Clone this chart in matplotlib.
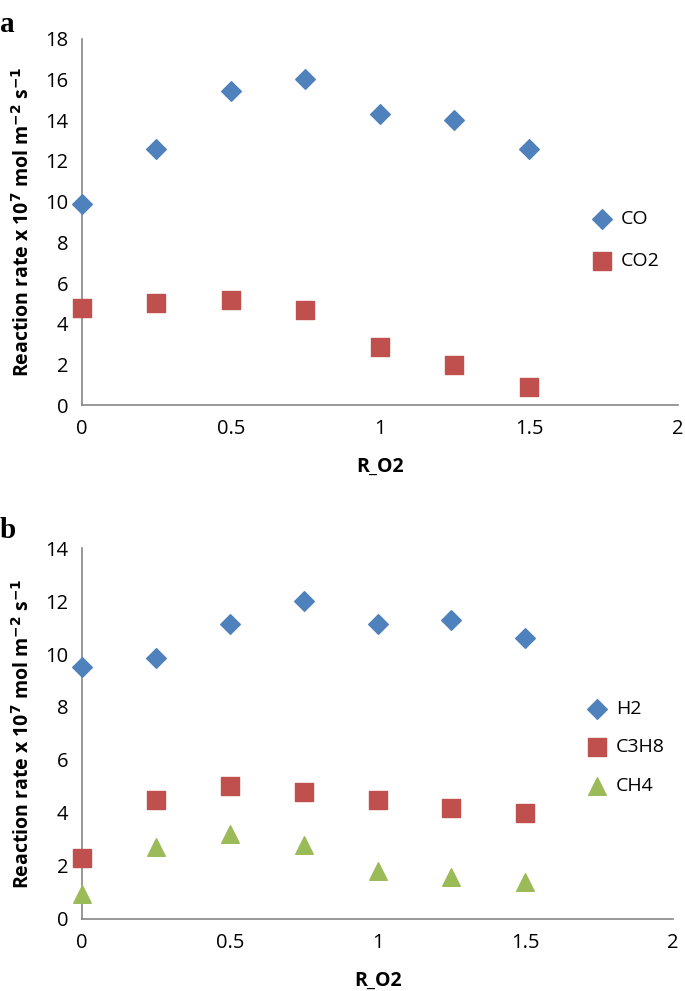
import matplotlib
matplotlib.use("Agg")
from matplotlib import pyplot as plt

# ---- data ----
r_o2 = [0, 0.25, 0.5, 0.75, 1.0, 1.25, 1.5]

co = [9.9, 12.6, 15.45, 16.0, 14.3, 14.0, 12.6]
co2 = [4.8, 5.0, 5.15, 4.7, 2.85, 2.0, 0.9]

h2 = [9.5, 9.85, 11.15, 12.0, 11.15, 11.3, 10.6]
c3h8 = [2.3, 4.5, 5.0, 4.8, 4.5, 4.2, 4.0]
ch4 = [0.95, 2.7, 3.2, 2.8, 1.8, 1.6, 1.4]

x_ticks = [0, 0.5, 1, 1.5, 2]
x_tick_labels = ["0", "0.5", "1", "1.5", "2"]

BLUE = "#4F81BD"
RED = "#C0504D"
GREEN = "#9BBB59"
GREY = "#868686"

plt.rcParams['font.family'] = ['Open Sans', 'DejaVu Sans']

fig = plt.figure(figsize=(6.85, 9.91), dpi=100)
ax1 = fig.add_axes([0.1197, 0.591, 0.870, 0.370])
ax2 = fig.add_axes([0.1197, 0.0727, 0.863, 0.3743])

ylabel = r"Reaction rate x 10$^{\mathbf{7}}$ mol m$^{\mathbf{-2}}$ s$^{\mathbf{-1}}$"


def style(ax, ymax):
    ax.set_xlim(0, 2)
    ax.set_ylim(0, ymax)
    ax.set_xticks(x_ticks)
    ax.set_xticklabels(x_tick_labels)
    ax.set_yticks(range(0, ymax + 1, 2))
    for s in ("top", "right"):
        ax.spines[s].set_visible(False)
    for s in ("left", "bottom"):
        ax.spines[s].set_color(GREY)
        ax.spines[s].set_linewidth(1.2)
    ax.tick_params(length=0, labelsize=14.5, pad=10)
    ax.set_xlabel("R_O2", fontsize=14, fontweight="bold", labelpad=13)
    ax.set_ylabel(ylabel, fontsize=14, fontweight="bold", labelpad=8)


ax1.scatter(r_o2, co, marker="D", s=100, color=BLUE, label="CO", clip_on=False, zorder=3)
ax1.scatter(r_o2, co2, marker="s", s=160, color=RED, label="CO2", clip_on=False, zorder=3)
style(ax1, 18)
ax1.legend(loc="center left", bbox_to_anchor=(0.81, 0.45), frameon=False, fontsize=14,
           handletextpad=0.0, labelspacing=1.25, markerscale=1.0)

ax2.scatter(r_o2, h2, marker="D", s=100, color=BLUE, label="H2", clip_on=False, zorder=3)
ax2.scatter(r_o2, c3h8, marker="s", s=160, color=RED, label="C3H8", clip_on=False, zorder=3)
ax2.scatter(r_o2, ch4, marker="^", s=160, color=GREEN, label="CH4", clip_on=False, zorder=3)
style(ax2, 14)
ax2.legend(loc="center left", bbox_to_anchor=(0.808, 0.463), frameon=False, fontsize=14,
           handletextpad=0.0, labelspacing=1.05, markerscale=1.0)

fig.text(0.0, 0.968, "a", family="Liberation Serif", fontweight="bold", fontsize=21)
fig.text(0.0, 0.457, "b", family="Liberation Serif", fontweight="bold", fontsize=21)

fig.savefig("out.png", dpi=100)
